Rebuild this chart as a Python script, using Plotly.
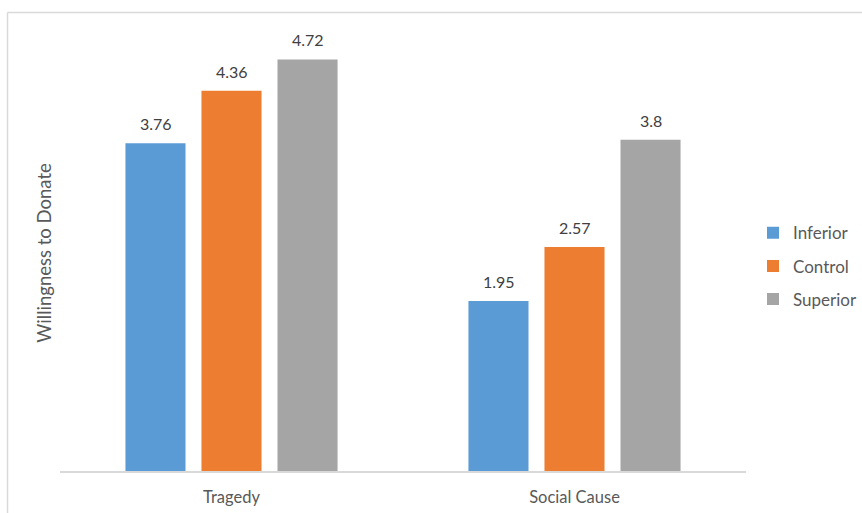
import plotly.graph_objects as go

categories = ["Tragedy", "Social Cause"]
series_names = ["Inferior", "Control", "Superior"]
inferior = [3.76, 1.95]
control = [4.36, 2.57]
superior = [4.72, 3.8]
label_text = [["3.76", "1.95"], ["4.36", "2.57"], ["4.72", "3.8"]]
colors = ["#5B9BD5", "#ED7D31", "#A5A5A5"]

FONT = "Lato, Open Sans, sans-serif"

W, H = 862, 513
L, R, T, B = 60, 116, 34.5, 42
pw, ph = W - L - R, H - T - B

def px_x(p):
    return (p - L) / pw

def px_y(p):
    return (H - B - p) / ph

fig = go.Figure()
all_vals = [inferior, control, superior]
for i, (name, vals) in enumerate(zip(series_names, all_vals)):
    fig.add_trace(go.Bar(
        x=categories,
        y=vals,
        name=name,
        marker=dict(color=colors[i], line=dict(width=0)),
        legendgroup=name,
        hoverinfo="x+y+name",
    ))

# value labels above each bar (offset horizontally to the bar's slot in the group)
slot_px = 76
annotations = []
for i, vals in enumerate(all_vals):
    for cat, v, txt in zip(categories, vals, label_text[i]):
        annotations.append(dict(
            x=cat, y=v, xref="x", yref="y",
            text=txt, showarrow=False,
            xshift=(i - 1) * slot_px, yshift=8,
            yanchor="bottom", xanchor="center",
            font=dict(family=FONT, size=16, color="#404040"),
        ))

fig.update_layout(
    width=W, height=H,
    margin=dict(l=L, r=R, t=T, b=B, pad=0, autoexpand=False),
    paper_bgcolor="white",
    plot_bgcolor="white",
    barmode="group",
    bargap=0.335,
    bargroupgap=0.21,
    font=dict(family=FONT, color="#595959", size=16),
    xaxis=dict(
        showline=True, linecolor="#D9D9D9", linewidth=1.5,
        ticks="", showgrid=False,
        tickfont=dict(family=FONT, size=16.5, color="#595959"),
        ticklabelstandoff=10,
    ),
    yaxis=dict(
        range=[0, 5], showticklabels=False, showgrid=False, zeroline=False,
        showline=False, ticks="",
        title=dict(text="Willingness to Donate", standoff=2,
                   font=dict(family=FONT, size=18.5, color="#595959")),
    ),
    legend=dict(
        x=px_x(753), xanchor="left",
        y=px_y(266), yanchor="middle",
        font=dict(family=FONT, size=17, color="#595959"),
        tracegroupgap=8,
        itemwidth=30,
        bgcolor="rgba(0,0,0,0)",
    ),
    showlegend=True,
    annotations=annotations,
    shapes=[
        dict(type="line", xref="paper", yref="paper",
             x0=px_x(7.5), x1=px_x(870), y0=px_y(12), y1=px_y(12),
             line=dict(color="#D9D9D9", width=1.5)),
        dict(type="line", xref="paper", yref="paper",
             x0=px_x(7.5), x1=px_x(7.5), y0=px_y(12), y1=px_y(520),
             line=dict(color="#D9D9D9", width=1.5)),
    ],
)

fig.write_html("out.html")
